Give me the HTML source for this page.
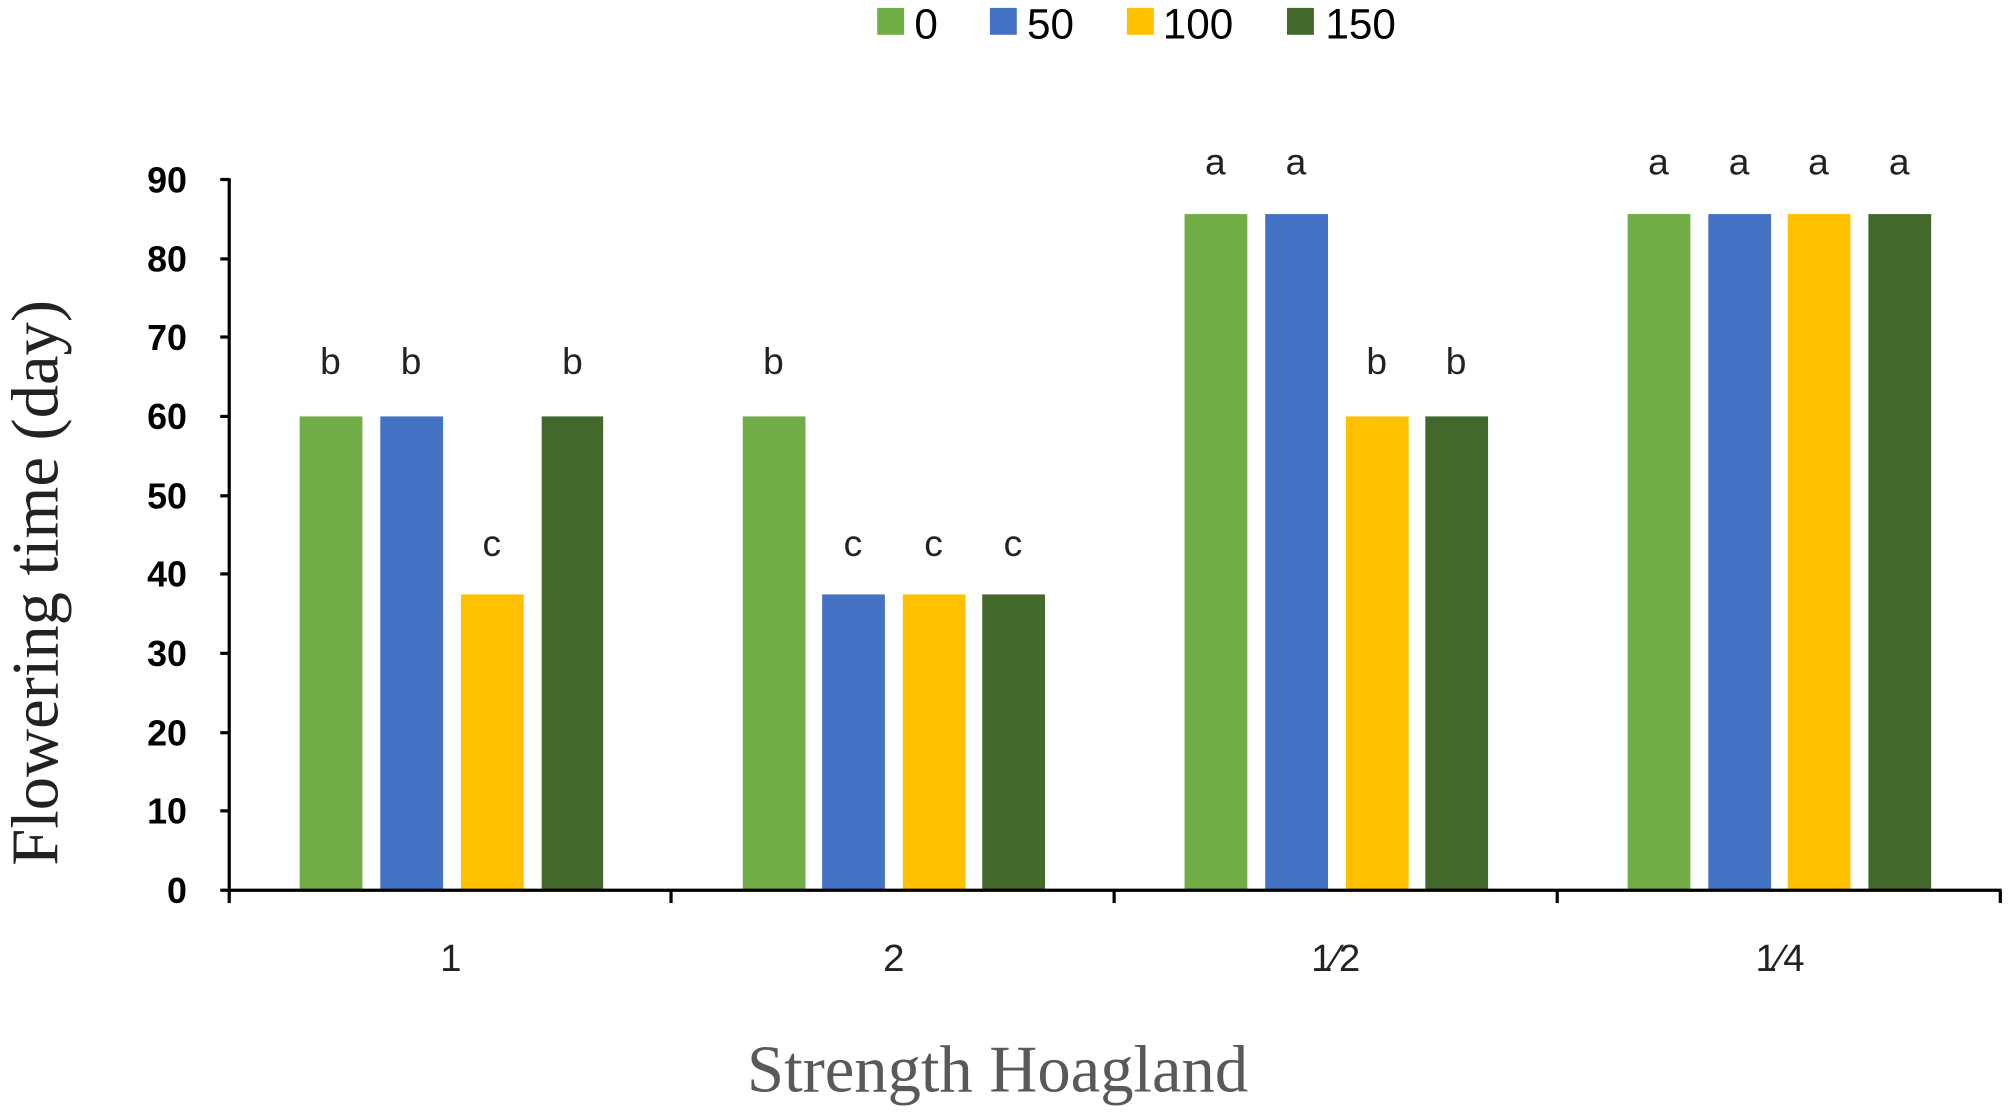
<!DOCTYPE html>
<html><head><meta charset="utf-8"><style>
html,body{margin:0;padding:0;background:#fff;}
svg{display:block;}
</style></head><body>
<svg width="2008" height="1112" viewBox="0 0 1568 868" xmlns="http://www.w3.org/2000/svg">
<rect width="1568" height="868" fill="#fff"/>
<g font-family="Liberation Sans, sans-serif" font-size="33" fill="#000">
<rect x="685" y="6" width="21" height="21" fill="#70AD47"/><text x="714" y="30">0</text>
<rect x="773" y="6" width="21" height="21" fill="#4472C4"/><text x="802" y="30">50</text>
<rect x="880" y="6" width="21" height="21" fill="#FFC000"/><text x="908" y="30">100</text>
<rect x="1005" y="6" width="21" height="21" fill="#43682B"/><text x="1035" y="30">150</text>
</g>
<g>
<rect x="234" y="325" width="49" height="370" fill="#70AD47"/>
<rect x="297" y="325" width="49" height="370" fill="#4472C4"/>
<rect x="360" y="464" width="49" height="231" fill="#FFC000"/>
<rect x="423" y="325" width="48" height="370" fill="#43682B"/>
<rect x="580" y="325" width="49" height="370" fill="#70AD47"/>
<rect x="642" y="464" width="49" height="231" fill="#4472C4"/>
<rect x="705" y="464" width="49" height="231" fill="#FFC000"/>
<rect x="767" y="464" width="49" height="231" fill="#43682B"/>
<rect x="925" y="167" width="49" height="528" fill="#70AD47"/>
<rect x="988" y="167" width="49" height="528" fill="#4472C4"/>
<rect x="1051" y="325" width="49" height="370" fill="#FFC000"/>
<rect x="1113" y="325" width="49" height="370" fill="#43682B"/>
<rect x="1271" y="167" width="49" height="528" fill="#70AD47"/>
<rect x="1334" y="167" width="49" height="528" fill="#4472C4"/>
<rect x="1396" y="167" width="49" height="528" fill="#FFC000"/>
<rect x="1459" y="167" width="49" height="528" fill="#43682B"/>
</g>
<g font-family="Liberation Sans, sans-serif" font-size="29" fill="#222" text-anchor="middle">
<text x="258" y="292">b</text><text x="321" y="292">b</text><text x="384" y="434">c</text><text x="447" y="292">b</text>
<text x="604" y="292">b</text><text x="666" y="434">c</text><text x="729" y="434">c</text><text x="791" y="434">c</text>
<text x="949" y="136">a</text><text x="1012" y="136">a</text><text x="1075" y="292">b</text><text x="1137" y="292">b</text>
<text x="1295" y="136">a</text><text x="1358" y="136">a</text><text x="1420" y="136">a</text><text x="1483" y="136">a</text>
</g>
<g stroke="#000" stroke-width="2.5" fill="none">
<line x1="179" y1="139" x2="179" y2="705"/>
<line x1="178" y1="695" x2="1563" y2="695"/>
<line x1="172" y1="140" x2="179" y2="140"/>
<line x1="172" y1="202" x2="179" y2="202"/>
<line x1="172" y1="263" x2="179" y2="263"/>
<line x1="172" y1="325" x2="179" y2="325"/>
<line x1="172" y1="387" x2="179" y2="387"/>
<line x1="172" y1="448" x2="179" y2="448"/>
<line x1="172" y1="510" x2="179" y2="510"/>
<line x1="172" y1="572" x2="179" y2="572"/>
<line x1="172" y1="633" x2="179" y2="633"/>
<line x1="172" y1="695" x2="179" y2="695"/>
<line x1="524" y1="695" x2="524" y2="705"/>
<line x1="870" y1="695" x2="870" y2="705"/>
<line x1="1216" y1="695" x2="1216" y2="705"/>
<line x1="1562" y1="695" x2="1562" y2="705"/>
</g>
<g font-family="Liberation Sans, sans-serif" font-size="28" font-weight="bold" fill="#000" text-anchor="end">
<text x="146" y="150">90</text><text x="146" y="212">80</text><text x="146" y="273">70</text>
<text x="146" y="335">60</text><text x="146" y="397">50</text><text x="146" y="458">40</text>
<text x="146" y="520">30</text><text x="146" y="582">20</text><text x="146" y="643">10</text>
<text x="146" y="705">0</text>
</g>
<g font-family="Liberation Sans, sans-serif" font-size="30" fill="#222" text-anchor="middle">
<text x="352" y="758">1</text><text x="698" y="758">2</text>
<text x="1043" y="758">1⁄2</text><text x="1390" y="758">1⁄4</text>
</g>
<text x="779" y="852" font-family="Liberation Serif, serif" font-size="52" fill="#595959" text-anchor="middle">Strength Hoagland</text>
<text transform="translate(45,455) rotate(-90)" font-family="Liberation Serif, serif" font-size="52" fill="#222" text-anchor="middle">Flowering time (day)</text>
</svg>
</body></html>
